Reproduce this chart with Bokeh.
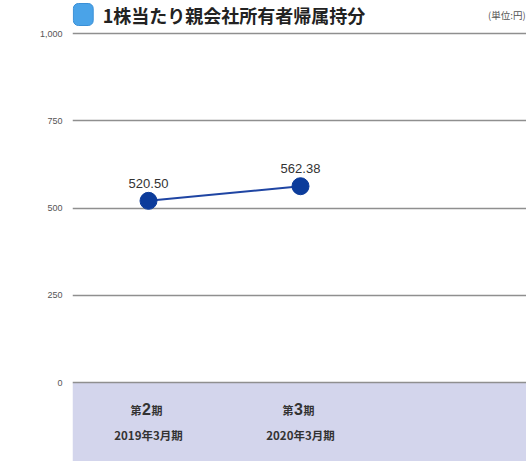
from bokeh.plotting import figure
from bokeh.layouts import column
from bokeh.models import Range1d, FixedTicker, NumeralTickFormatter, BoxAnnotation, ColumnDataSource
from bokeh.core.properties import value
from bokeh.embed import file_html
from bokeh.resources import INLINE

title = "1株当たり親会社所有者帰属持分"
unit = "(単位:円)"
period_nums = ["2", "3"]
fiscal_years = ["2019年3月期", "2020年3月期"]
values = [520.50, 562.38]
value_labels = ["520.50", "562.38"]
y_ticks = [0, 250, 500, 750, 1000]

JP = "Noto Sans CJK JP"
NUM = "Liberation Sans"
W = 526
HEAD_H = 28
MAIN_H = 461 - HEAD_H

# ---------- header (icon, title, unit) ----------
head = figure(width=W, height=HEAD_H, output_backend="svg", toolbar_location=None,
              x_range=Range1d(0, W), y_range=Range1d(0, HEAD_H),
              x_axis_location=None, y_axis_location=None, min_border=0)
head.outline_line_color = None
head.grid.visible = False
head.quad(left=[1], right=[24], bottom=[3], top=[25], fill_color="#4aa3e8",
          line_color="#3a8fd6", border_radius=5)
head.text(x=[35], y=[14], text=[title], text_baseline="middle", text_align="left",
          text_font=value(JP), text_font_size="18px", text_font_style="bold", text_color="#222222")
head.text(x=[W - 1], y=[14], text=[unit], text_baseline="middle", text_align="right",
          text_font=value(JP), text_font_size="9.5px", text_color="#555555")

# ---------- main chart ----------
xs = [i + 0.5 for i in range(len(values))]
src = ColumnDataSource(dict(x=xs, y=values, lab=value_labels, num=period_nums, fy=fiscal_years,
                            per_y=[-74.5] * len(values), fy_y=[-149] * len(values),
                            pre=["第"] * len(values), suf=["期"] * len(values)))

px_per_unit = 349 / 1000.0
y_top = 1000 + (33 - HEAD_H) / px_per_unit
y_bot = y_top - MAIN_H / px_per_unit
p = figure(width=W, height=MAIN_H, output_backend="svg", toolbar_location=None,
           x_range=Range1d(0, (W - 72) / 152), y_range=Range1d(y_bot, y_top),
           x_axis_location=None, min_border_left=72, min_border_right=0,
           min_border_top=0, min_border_bottom=0)
p.outline_line_color = None
p.xgrid.visible = False
p.ygrid.ticker = FixedTicker(ticks=y_ticks)
p.ygrid.grid_line_color = "#8f8f8f"
p.ygrid.grid_line_width = 1.6

ax = p.yaxis[0]
ax.ticker = FixedTicker(ticks=y_ticks)
ax.formatter = NumeralTickFormatter(format="0,0")
ax.axis_line_color = None
ax.major_tick_line_color = None
ax.minor_tick_line_color = None
ax.major_label_standoff = 4
ax.major_label_text_font = NUM
ax.major_label_text_font_size = "9px"
ax.major_label_text_color = "#555555"

band = BoxAnnotation(top=0, fill_color="#d3d5ec", fill_alpha=1.0, line_color=None, level="image")
p.add_layout(band)

p.line("x", "y", source=src, line_color="#1f45a3", line_width=2)
p.scatter("x", "y", source=src, size=17, fill_color="#0c3c9b", line_color="#0c3c9b")
p.text("x", "y", text="lab", source=src, text_align="center", text_baseline="bottom",
       y_offset=-13, text_font=value(NUM), text_font_size="13px", text_color="#333333")

p.text("x", "per_y", text="num", source=src, text_align="center", text_baseline="middle",
       x_offset=-2, text_font=value(NUM), text_font_size="16px", text_font_style="bold", text_color="#333333")
p.text("x", "per_y", text="pre", source=src, text_align="right", text_baseline="middle",
       x_offset=-7, y_offset=1, text_font=value(JP), text_font_size="11px", text_font_style="bold", text_color="#333333")
p.text("x", "per_y", text="suf", source=src, text_align="left", text_baseline="middle",
       x_offset=3, y_offset=1, text_font=value(JP), text_font_size="11px", text_font_style="bold", text_color="#333333")
p.text("x", "fy_y", text="fy", source=src, text_align="center", text_baseline="middle",
       text_font=value(JP), text_font_size="11.5px", text_font_style="bold", text_color="#333333")

open("out.html", "w").write(file_html(column(head, p, spacing=0), INLINE))
